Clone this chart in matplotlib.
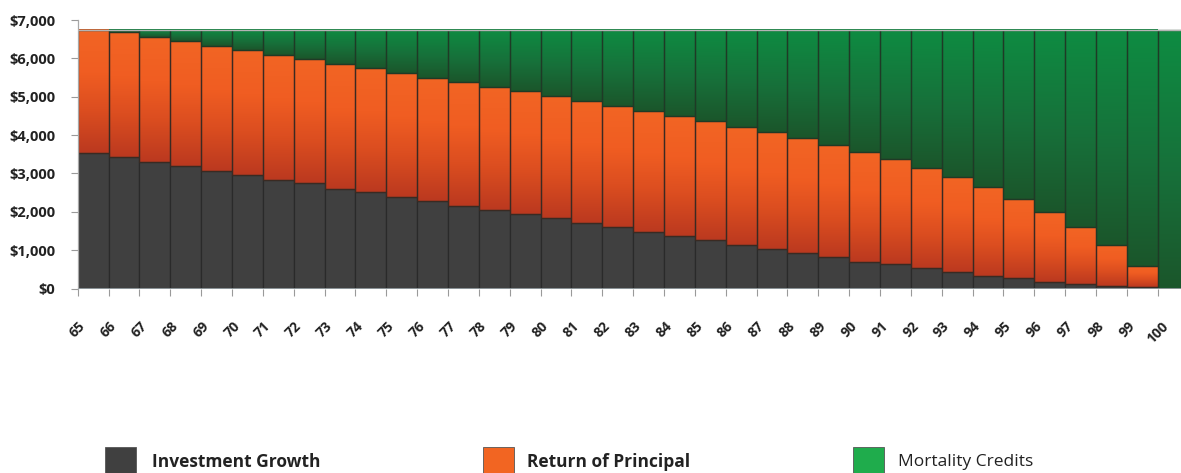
import numpy as np
import matplotlib
matplotlib.use("Agg")
from matplotlib import pyplot as plt
from matplotlib.colors import LinearSegmentedColormap
from matplotlib.patches import Rectangle

plt.rcParams['font.family'] = ['Open Sans', 'DejaVu Sans']

ages = list(range(65, 101))
growth = [3540, 3435, 3300, 3200, 3070, 2965, 2830, 2740, 2595, 2505,
          2395, 2280, 2160, 2045, 1935, 1830, 1710, 1595, 1475, 1360,
          1265, 1135, 1030, 925, 820, 700, 630, 525, 430, 325,
          265, 170, 110, 65, 30, 0]
principal = [3210, 3245, 3250, 3240, 3250, 3245, 3260, 3235, 3255, 3235,
             3215, 3215, 3215, 3215, 3215, 3180, 3185, 3170, 3150, 3135,
             3095, 3065, 3040, 2990, 2920, 2865, 2740, 2625, 2485, 2315,
             2070, 1825, 1485, 1070, 565, 0]
mortality = [0, 70, 200, 310, 430, 540, 660, 775, 900, 1010,
             1140, 1255, 1375, 1490, 1600, 1740, 1855, 1985, 2125, 2255,
             2390, 2550, 2680, 2835, 3010, 3185, 3380, 3600, 3835, 4110,
             4415, 4755, 5155, 5615, 6155, 6750]
yticks = [0, 1000, 2000, 3000, 4000, 5000, 6000, 7000]

gray_col = '#404040'
orange_map = LinearSegmentedColormap.from_list(
    'orange', [(0, '#bb391f'), (0.35, '#dc4e20'), (0.65, '#f05d22'), (1, '#f26524')])
green_map = LinearSegmentedColormap.from_list(
    'green', [(0, '#1b562b'), (0.45, '#17703a'), (1, '#0e8c42')])
grad = np.linspace(0, 1, 128).reshape(-1, 1)


def shade(ax, patches, cmap):
    # paint a vertical gradient inside every bar segment
    for p in patches:
        x0, y0 = p.get_x(), p.get_y()
        w, h = p.get_width(), p.get_height()
        if h <= 0:
            continue
        ax.imshow(grad, extent=[x0, x0 + w, y0, y0 + h], origin='lower',
                  cmap=cmap, aspect='auto', zorder=1, interpolation='bilinear')


fig = plt.figure(figsize=(11.81, 4.73), dpi=100)
ax = fig.add_axes([0.0658, 0.390, 0.9406, 0.5677])

x = np.arange(len(ages))
g = np.array(growth)
pr = np.array(principal)
m = np.array(mortality)

b1 = ax.bar(x, g, width=1, align='edge', color=gray_col, edgecolor='#2a2a2a',
            linewidth=0.9, zorder=2)
b2 = ax.bar(x, pr, bottom=g, width=1, align='edge', color='none',
            edgecolor='#3a2a22', linewidth=0.9, zorder=2)
b3 = ax.bar(x, m, bottom=g + pr, width=1, align='edge', color='none',
            edgecolor='#1f3a26', linewidth=0.9, zorder=2)
shade(ax, b2, orange_map)
shade(ax, b3, green_map)

total = (g + pr + m).max()
ax.axhline(total, color='#b4b4b4', lw=1.0, zorder=3)
ax.axhline(0, color='#9aa4a8', lw=1.2, zorder=3)

ax.set_xlim(0, len(ages))
ax.set_ylim(0, 7000)
ax.set_xticks(x)
ax.set_xticklabels([str(a) for a in ages], rotation=45, ha='center',
                   fontsize=10, fontweight='bold', color='#222222')
ax.set_yticks(yticks)
ax.set_yticklabels(['${:,}'.format(v) for v in yticks], fontsize=10.5,
                   fontweight='bold', color='#222222')
ax.tick_params(axis='x', length=5, width=0.8, color='#9a9a9a', pad=17)
ax.tick_params(axis='y', length=5, width=0.8, color='#9a9a9a', pad=11)

for s in ['top', 'right', 'bottom']:
    ax.spines[s].set_visible(False)
ax.spines['left'].set_color('#a8a8a8')
ax.spines['left'].set_linewidth(0.9)

# legend along the bottom edge
W, H = 1181, 473
items = [(105, 152, gray_col, 'Investment Growth', 'bold'),
         (483, 527, '#f26522', 'Return of Principal', 'bold'),
         (853, 898, '#1fac4c', 'Mortality Credits', 'normal')]
for px, tx, col, label, weight in items:
    fig.patches.append(Rectangle((px / W, -0.02), 31 / W, (H - 447) / H + 0.02,
                                 transform=fig.transFigure, facecolor=col,
                                 edgecolor='#555555', linewidth=0.6))
    fig.text(tx / W, (H - 462) / H, label, fontsize=12.5, fontweight=weight,
             color='#222222', ha='left', va='center')

fig.savefig('out.png', dpi=100)
